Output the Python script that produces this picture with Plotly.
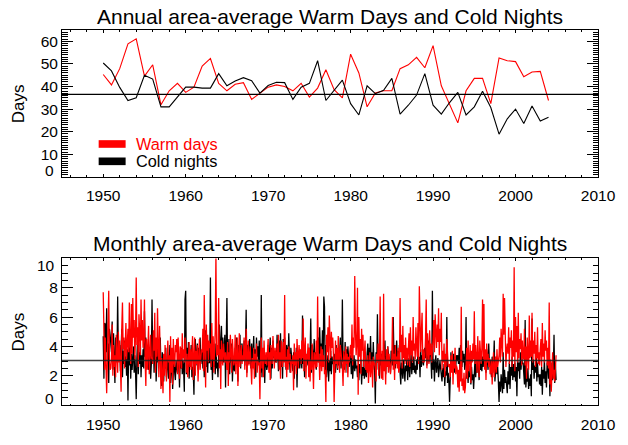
import plotly.graph_objects as go

# ---------------- data ----------------
years = list(range(1950, 2005))

warm_annual = [45.3, 40.7, 47.9, 58.9, 61.1, 44.6, 49.6, 31.9, 38.1, 41.4,
               37.4, 39.7, 49.0, 52.4, 41.4, 38.1, 41.0, 41.7, 34.3, 37.1,
               39.7, 40.7, 40.0, 38.1, 41.4, 35.3, 39.3, 47.4, 38.6, 35.0,
               54.3, 46.0, 31.0, 37.1, 38.1, 38.1, 47.9, 49.6, 52.9, 48.3,
               58.1, 40.3, 32.1, 23.9, 38.1, 43.6, 43.6, 32.4, 52.6, 51.4,
               51.0, 44.3, 46.4, 46.7, 33.8]

cold_annual = [50.4, 46.9, 39.6, 33.8, 35.0, 45.0, 43.3, 31.0, 31.0, 35.3,
               39.7, 39.7, 39.3, 39.3, 45.7, 40.3, 42.4, 43.9, 42.6, 37.1,
               40.4, 41.9, 41.7, 34.3, 39.7, 41.4, 51.4, 33.8, 38.1, 42.8,
               32.4, 27.4, 40.3, 36.8, 38.3, 43.6, 27.8, 31.7, 36.2, 45.7,
               31.7, 27.8, 32.9, 37.4, 27.4, 31.0, 37.9, 30.7, 18.9, 25.7,
               30.0, 23.6, 31.4, 24.7, 26.4]

# monthly counts, Jan 1950 .. Dec 2004 (one row per year)
warm_monthly = [
    7.7, 3.0, 2.4, 4.6, 3.3, 0.8, 2.9, 4.5, 7.8, 3.2, 2.4, 2.5,
    3.1, 5.5, 2.0, 4.1, 2.6, 3.4, 1.9, 4.8, 3.3, 2.2, 5.0, 2.9,
    4.4, 2.7, 0.9, 5.3, 7.0, 3.8, 4.6, 2.5, 3.9, 5.6, 3.1, 4.2,
    5.2, 3.6, 7.0, 4.3, 2.8, 6.9, 3.5, 7.3, 4.6, 5.8, 3.1, 4.8,
    8.7, 4.1, 5.3, 2.6, 6.2, 5.0, 3.4, 7.2, 4.4, 5.8, 3.9, 4.5,
    7.2, 3.0, 1.3, 4.5, 2.4, 3.9, 5.4, 2.1, 3.6, 4.8, 3.2, 3.2,
    2.8, 5.1, 3.7, 6.3, 2.2, 4.6, 3.3, 6.6, 4.0, 1.9, 5.4, 3.7,
    1.1, 3.2, 2.4, 0.8, 3.5, 2.0, 4.1, 2.6, 1.6, 3.3, 4.4, 2.9,
    3.4, 0.2, 4.7, 2.2, 3.9, 1.4, 4.5, 3.0, 2.6, 4.1, 3.6, 4.5,
    2.1, 4.6, 3.3, 1.8, 4.0, 3.7, 2.5, 4.9, 3.2, 3.8, 2.9, 4.6,
    4.1, 2.2, 3.5, 1.9, 3.0, 4.3, 2.6, 3.8, 2.4, 3.2, 4.7, 1.7,
    3.3, 4.6, 2.0, 3.7, 2.8, 4.1, 1.6, 3.9, 4.5, 2.4, 3.0, 3.8,
    3.6, 5.2, 2.3, 7.5, 4.0, 1.2, 5.5, 3.7, 4.8, 2.9, 4.4, 3.9,
    4.2, 2.6, 5.6, 3.1, 4.7, 2.2, 3.9, 5.0, 10.3, 3.3, 4.1, 3.4,
    7.3, 2.5, 3.8, 1.1, 4.4, 3.0, 2.7, 4.2, 3.5, 2.9, 3.6, 2.4,
    2.4, 4.3, 1.3, 3.6, 2.9, 4.8, 3.3, 2.2, 4.5, 3.1, 2.7, 3.0,
    4.8, 2.1, 3.4, 4.6, 1.3, 3.8, 4.9, 2.6, 3.2, 4.1, 2.8, 3.4,
    3.0, 4.6, 2.4, 3.7, 5.2, 1.9, 3.3, 4.4, 2.7, 3.9, 4.0, 2.6,
    1.4, 3.2, 2.5, 3.9, 1.8, 3.5, 2.9, 4.2, 2.2, 3.1, 2.7, 2.9,
    0.4, 3.4, 4.6, 2.5, 3.9, 1.9, 4.4, 3.2, 2.8, 3.6, 2.7, 3.7,
    4.5, 2.2, 3.6, 1.7, 4.1, 3.4, 2.8, 4.7, 3.0, 2.5, 3.9, 3.3,
    2.9, 4.2, 3.1, 4.8, 2.4, 3.6, 1.8, 4.4, 3.7, 2.6, 4.3, 2.9,
    7.5, 2.6, 3.3, 1.9, 3.8, 2.4, 4.0, 2.9, 3.5, 2.2, 3.1, 2.8,
    3.4, 1.0, 4.2, 2.7, 3.6, 2.1, 4.5, 3.0, 2.5, 4.1, 3.2, 3.8,
    2.8, 4.4, 3.2, 5.9, 2.3, 3.7, 4.6, 1.8, 3.5, 3.1, 4.2, 1.9,
    3.9, 1.6, 3.0, 2.4, 4.2, 2.7, 1.1, 3.6, 3.3, 2.5, 4.4, 2.6,
    7.4, 2.9, 3.5, 1.7, 3.2, 4.0, 2.3, 3.8, 2.6, 3.4, 2.1, 2.4,
    0.2, 4.8, 3.6, 5.3, 2.9, 6.1, 4.4, 3.2, 5.0, 3.9, 4.6, 3.4,
    0.2, 3.6, 4.4, 2.8, 3.9, 2.5, 4.7, 3.3, 2.2, 4.1, 3.6, 3.3,
    2.6, 1.3, 3.7, 3.1, 2.2, 4.0, 2.8, 3.5, 1.9, 3.3, 2.9, 3.7,
    4.1, 3.2, 5.5, 2.7, 4.6, 3.9, 8.8, 5.1, 3.4, 4.3, 8.0, 0.7,
    6.0, 3.3, 4.5, 2.1, 5.2, 3.7, 4.8, 2.6, 3.9, 4.4, 2.4, 3.1,
    2.2, 3.4, 1.5, 2.8, 3.6, 1.9, 2.4, 3.1, 1.2, 3.3, 2.7, 2.9,
    2.4, 1.6, 3.5, 2.9, 4.2, 2.0, 3.3, 7.4, 2.6, 1.8, 3.7, 1.7,
    7.6, 2.3, 3.1, 1.4, 3.8, 2.6, 4.0, 2.2, 3.5, 2.7, 2.1, 2.8,
    3.2, 6.0, 2.4, 3.5, 1.7, 4.1, 2.8, 3.3, 2.5, 3.9, 2.2, 2.5,
    7.3, 3.6, 4.8, 2.5, 5.4, 3.2, 4.1, 2.8, 4.6, 3.0, 3.9, 2.7,
    3.8, 4.9, 2.6, 5.3, 3.4, 4.4, 2.9, 6.0, 3.7, 4.2, 3.1, 5.3,
    4.1, 3.3, 5.6, 2.8, 8.1, 4.5, 3.6, 5.0, 6.3, 2.9, 3.8, 2.9,
    3.2, 4.6, 7.2, 2.5, 4.9, 3.7, 2.8, 5.1, 3.4, 4.2, 2.9, 3.8,
    4.4, 5.8, 3.6, 6.2, 4.9, 3.9, 5.5, 4.3, 6.6, 3.4, 5.2, 4.3,
    6.3, 2.4, 3.7, 2.9, 4.2, 1.9, 3.5, 2.6, 4.5, 3.0, 2.7, 2.6,
    2.8, 1.9, 3.4, 2.2, 3.7, 1.4, 3.0, 2.5, 3.9, 2.1, 2.7, 2.5,
    1.2, 2.4, 0.9, 2.8, 1.6, 6.7, 1.3, 1.8, 1.0, 2.2, 0.8, 1.2,
    2.6, 3.9, 1.8, 4.4, 2.3, 3.6, 4.1, 1.5, 3.7, 2.9, 4.2, 3.1,
    6.4, 2.8, 4.1, 3.3, 2.2, 4.7, 3.6, 1.9, 4.4, 3.5, 2.8, 3.9,
    7.2, 3.1, 6.9, 2.4, 3.8, 1.7, 4.2, 2.9, 3.5, 2.6, 3.2, 2.1,
    2.3, 3.1, 1.4, 2.7, 3.6, 1.9, 2.5, 3.3, 2.2, 3.8, 2.6, 3.0,
    3.4, 4.6, 2.9, 5.2, 4.0, 3.3, 7.6, 4.8, 7.3, 3.1, 2.6, 3.8,
    4.2, 3.5, 5.3, 2.8, 4.6, 3.9, 5.1, 2.6, 4.4, 3.3, 9.4, 2.3,
    6.0, 3.6, 5.4, 2.9, 6.3, 3.2, 4.5, 3.8, 4.9, 2.7, 4.4, 3.3,
    3.1, 5.2, 2.7, 4.0, 1.8, 4.6, 3.5, 2.4, 6.1, 3.2, 4.4, 3.3,
    6.3, 2.9, 4.4, 3.5, 5.0, 2.6, 4.1, 3.2, 5.3, 2.8, 3.6, 2.7,
    3.8, 4.5, 2.6, 5.6, 3.3, 4.2, 2.9, 5.1, 3.7, 4.4, 2.7, 3.9,
    2.5, 7.0, 1.4, 3.1, 0.9, 2.8, 3.6, 1.8, 2.4, 1.6, 3.3, 3.4,
]

cold_monthly = [
    4.7, 1.8, 5.6, 5.5, 3.6, 6.6, 3.0, 4.2, 1.5, 5.2, 4.8, 3.9,
    3.6, 5.7, 2.4, 4.9, 3.1, 1.5, 4.6, 3.8, 2.9, 7.4, 3.3, 3.7,
    4.1, 2.3, 3.5, 5.2, 1.9, 3.7, 2.8, 4.4, 2.6, 3.3, 2.0, 3.8,
    0.3, 3.9, 2.7, 4.2, 1.8, 3.5, 2.4, 3.1, 4.0, 2.2, 3.4, 2.3,
    0.4, 3.2, 4.5, 2.1, 3.6, 2.8, 4.2, 1.9, 3.4, 2.6, 3.8, 2.5,
    6.4, 3.3, 4.6, 2.7, 3.9, 2.6, 2.4, 3.5, 3.8, 1.8, 2.8, 7.2,
    3.1, 4.9, 2.2, 3.8, 4.4, 1.6, 3.7, 4.5, 2.9, 4.1, 3.5, 4.6,
    2.4, 1.3, 3.6, 2.8, 1.6, 3.2, 2.5, 3.9, 1.9, 2.7, 3.3, 1.8,
    2.9, 4.1, 1.5, 2.6, 3.4, 1.1, 2.8, 3.5, 2.2, 1.7, 3.0, 2.2,
    2.2, 3.6, 2.9, 1.2, 3.4, 2.5, 3.9, 2.1, 3.0, 2.4, 0.9, 7.2,
    7.8, 2.1, 3.9, 2.6, 4.3, 1.8, 3.4, 2.9, 4.1, 1.9, 2.6, 2.3,
    0.7, 3.8, 4.5, 2.7, 3.5, 4.2, 2.4, 3.9, 3.1, 4.6, 2.8, 3.5,
    3.7, 2.5, 4.3, 1.9, 3.4, 5.1, 2.6, 3.8, 2.2, 4.0, 2.9, 2.9,
    8.7, 2.4, 3.1, 1.7, 3.9, 2.6, 3.3, 2.1, 4.2, 2.5, 2.9, 1.9,
    3.5, 5.5, 4.2, 2.8, 5.4, 3.7, 4.6, 2.9, 3.9, 4.8, 1.2, 3.2,
    7.3, 2.6, 3.8, 4.5, 2.1, 3.4, 2.9, 4.2, 1.6, 3.1, 2.5, 2.3,
    3.9, 2.8, 4.6, 3.3, 1.6, 4.1, 3.6, 4.8, 2.5, 3.9, 4.2, 3.1,
    3.4, 4.4, 2.7, 3.9, 6.5, 2.2, 4.1, 3.6, 2.8, 4.5, 3.3, 2.5,
    4.2, 2.9, 3.6, 4.7, 2.4, 3.8, 1.9, 4.6, 3.3, 4.0, 2.8, 4.4,
    3.1, 2.2, 7.5, 1.9, 3.3, 2.6, 3.7, 1.5, 3.4, 2.8, 2.4, 2.7,
    4.1, 2.7, 3.4, 4.6, 1.8, 3.9, 2.5, 4.4, 3.2, 3.6, 2.9, 3.3,
    2.9, 4.8, 3.5, 2.3, 4.4, 3.1, 4.9, 2.6, 3.7, 1.8, 4.5, 3.4,
    4.6, 3.2, 2.4, 4.1, 3.7, 2.8, 4.9, 3.3, 2.2, 3.9, 3.5, 3.1,
    2.3, 3.6, 1.8, 3.1, 2.7, 3.9, 1.2, 3.4, 2.9, 3.3, 2.5, 3.6,
    3.2, 2.5, 6.1, 2.8, 3.6, 1.9, 4.0, 2.6, 3.4, 3.0, 2.7, 3.9,
    2.6, 3.3, 5.9, 2.2, 4.1, 3.4, 2.8, 4.5, 3.0, 3.6, 2.4, 3.6,
    3.8, 4.6, 2.9, 5.3, 3.5, 4.2, 3.1, 5.1, 2.6, 7.4, 6.7, 2.2,
    4.1, 1.9, 2.6, 3.4, 1.6, 3.0, 2.3, 3.7, 2.1, 3.3, 2.8, 3.0,
    2.8, 3.5, 2.2, 4.1, 3.0, 2.4, 3.8, 2.7, 3.4, 4.6, 2.5, 3.1,
    7.2, 2.9, 3.6, 2.4, 4.3, 3.1, 3.8, 2.2, 4.0, 3.3, 2.6, 3.4,
    3.3, 2.1, 3.7, 1.8, 2.9, 3.4, 2.3, 3.1, 2.5, 2.7, 1.9, 2.7,
    1.7, 2.8, 2.2, 3.1, 1.4, 2.6, 2.0, 3.3, 1.8, 2.5, 2.1, 1.9,
    3.5, 4.2, 2.6, 3.9, 3.1, 4.7, 2.8, 3.6, 2.4, 4.3, 2.9, 2.3,
    0.1, 3.6, 2.4, 6.2, 2.9, 3.3, 1.8, 4.1, 2.7, 3.5, 2.6, 3.6,
    2.9, 3.7, 4.4, 2.1, 3.3, 2.6, 4.0, 3.5, 2.8, 3.1, 2.2, 3.7,
    3.6, 2.7, 6.0, 3.4, 4.1, 2.5, 3.8, 4.4, 2.9, 3.7, 2.4, 4.1,
    2.2, 1.4, 2.9, 2.5, 1.8, 3.1, 2.4, 1.6, 2.7, 2.3, 3.2, 1.7,
    2.6, 3.2, 1.9, 2.8, 3.5, 2.1, 2.9, 2.4, 3.3, 2.2, 2.7, 2.1,
    3.1, 2.4, 3.6, 2.8, 3.3, 1.9, 3.8, 2.6, 3.4, 3.0, 2.7, 3.6,
    3.9, 3.2, 4.6, 2.7, 3.8, 4.4, 2.9, 3.5, 4.1, 3.0, 1.8, 7.8,
    2.4, 3.1, 1.6, 2.9, 3.4, 2.2, 2.7, 3.2, 1.9, 2.8, 3.0, 2.5,
    2.1, 1.6, 2.5, 1.9, 2.8, 1.3, 2.3, 2.0, 6.0, 1.5, 2.2, 1.6,
    0.2, 2.9, 3.6, 2.4, 3.1, 2.7, 3.5, 2.2, 3.3, 2.6, 3.4, 3.0,
    3.4, 2.8, 3.9, 2.3, 4.1, 3.0, 2.6, 3.7, 2.9, 3.5, 2.4, 2.8,
    6.0, 1.8, 2.4, 1.5, 2.7, 1.9, 2.2, 1.4, 2.6, 1.7, 2.1, 1.1,
    2.5, 3.1, 1.9, 2.8, 2.2, 3.4, 2.6, 1.7, 3.2, 2.4, 2.9, 2.3,
    3.3, 2.6, 4.0, 2.9, 3.6, 2.2, 3.8, 3.1, 2.4, 4.2, 2.7, 3.1,
    2.7, 1.9, 3.3, 2.2, 2.8, 4.4, 1.6, 2.5, 3.0, 2.1, 2.6, 1.6,
    0.2, 1.6, 0.9, 2.1, 1.3, 0.8, 3.6, 1.1, 2.4, 1.5, 1.9, 1.5,
    0.8, 2.3, 1.4, 2.9, 1.1, 2.6, 2.0, 3.3, 1.7, 2.8, 1.9, 2.9,
    1.6, 2.6, 0.6, 3.2, 2.3, 2.9, 1.8, 3.6, 2.4, 3.3, 2.8, 2.9,
    2.2, 1.4, 5.8, 1.2, 2.0, 1.6, 2.5, 1.1, 1.8, 1.3, 2.1, 0.6,
    5.9, 2.4, 3.1, 1.8, 2.7, 2.2, 3.4, 1.6, 2.9, 1.9, 2.1, 1.4,
    2.1, 1.3, 2.6, 0.7, 2.4, 1.8, 3.1, 1.5, 2.3, 1.2, 2.9, 2.8,
    1.8, 2.6, 0.6, 2.2, 1.4, 2.9, 1.7, 2.4, 4.8, 1.5, 2.8, 1.7,
]

# decimal-year time stamp of each month
month_time = [1950 + i / 12 for i in range(len(warm_monthly))]

# expected count for a 10th/90th percentile index: 10 % of the days
annual_ref = 36.5
monthly_ref = annual_ref / 12

x_ticks = [1950, 1960, 1970, 1980, 1990, 2000, 2010]
annual_ticks = [0, 10, 20, 30, 40, 50, 60]
monthly_ticks = [0, 2, 4, 6, 8, 10]

# ---------------- figure ----------------
FONT = "Liberation Sans, Arial, Helvetica, sans-serif"
RED = "#ff0000"
BLACK = "#000000"

fig = go.Figure()

fig.add_trace(go.Scatter(x=years, y=warm_annual, mode="lines", name="Warm days",
                         line=dict(color=RED, width=1.1), xaxis="x", yaxis="y"))
fig.add_trace(go.Scatter(x=years, y=cold_annual, mode="lines", name="Cold nights",
                         line=dict(color=BLACK, width=1.1), xaxis="x", yaxis="y"))

fig.add_trace(go.Scatter(x=month_time, y=cold_monthly, mode="lines",
                         line=dict(color=BLACK, width=1.3), xaxis="x2", yaxis="y2"))
fig.add_trace(go.Scatter(x=month_time, y=warm_monthly, mode="lines",
                         line=dict(color=RED, width=1.3), xaxis="x2", yaxis="y2"))

common = dict(showline=True, linecolor="black", linewidth=1, mirror="allticks",
              ticks="inside", tickcolor="black", tickwidth=1, showgrid=False,
              zeroline=False, tickfont=dict(family=FONT, size=15.5, color="black"))

def x_axis(anchor):
    return dict(common, range=[1945, 2010], anchor=anchor, domain=[0, 1],
                tickmode="array", tickvals=x_ticks, ticklen=3,
                ticklabelstandoff=5,
                minor=dict(dtick=2, tick0=1950, ticklen=1.5, ticks="inside",
                           tickcolor="black", showgrid=False))

def y_axis(anchor, rng, ticks, minor_step, domain):
    text = [str(t) for t in ticks]
    text[0] = ""  # edge label drawn separately, kept inside the frame
    if ticks[-1] == rng[1]:
        text[-1] = ""
    return dict(common, range=rng, anchor=anchor, domain=domain,
                tickmode="array", tickvals=ticks, ticktext=text, ticklen=11,
                minor=dict(dtick=minor_step, tick0=0, ticklen=5.5, ticks="inside",
                           tickcolor="black", showgrid=False))

fig.update_layout(
    width=628, height=445,
    margin=dict(l=62, r=21, t=30, b=28),
    paper_bgcolor="white", plot_bgcolor="white",
    showlegend=False,
    font=dict(family=FONT, color="black"),
    xaxis=x_axis("y"),
    yaxis=y_axis("x", [0, 65], annual_ticks, 1, [0.6083, 1]),
    xaxis2=x_axis("y2"),
    yaxis2=y_axis("x2", [0, 10], monthly_ticks, 0.5, [0, 0.3907]),
)

# reference lines
fig.add_shape(type="line", xref="x domain", yref="y", x0=0, x1=1,
              y0=annual_ref, y1=annual_ref, line=dict(color="black", width=1.2))
fig.add_shape(type="line", xref="x2 domain", yref="y2", x0=0, x1=1,
              y0=monthly_ref, y1=monthly_ref,
              line=dict(color="rgba(30,30,30,0.85)", width=1.6))

ann = []
# titles
ann.append(dict(text="Annual area-average Warm Days and Cold Nights",
                xref="x domain", yref="paper", x=0.5, y=1.036,
                xanchor="center", yanchor="middle", showarrow=False,
                font=dict(family=FONT, size=21, color="black")))
ann.append(dict(text="Monthly area-average Warm Days and Cold Nights",
                xref="x2 domain", yref="paper", x=0.5, y=0.4315,
                xanchor="center", yanchor="middle", showarrow=False,
                font=dict(family=FONT, size=21, color="black")))
# y titles
for yref in ("y domain", "y2 domain"):
    ann.append(dict(text="Days", xref="paper", yref=yref, x=-0.0807, y=0.5,
                    xanchor="center", yanchor="middle", textangle=-90,
                    showarrow=False, font=dict(family=FONT, size=17, color="black")))
# edge tick labels, kept inside the frame
ann.append(dict(text="0", xref="paper", yref="y", x=-0.011, y=0,
                xanchor="right", yanchor="bottom", yshift=-4, showarrow=False,
                font=dict(family=FONT, size=15.5, color="black")))
ann.append(dict(text="0", xref="paper", yref="y2", x=-0.011, y=0,
                xanchor="right", yanchor="bottom", yshift=-4, showarrow=False,
                font=dict(family=FONT, size=15.5, color="black")))
ann.append(dict(text="10", xref="paper", yref="y2", x=-0.009, y=10,
                xanchor="right", yanchor="top", yshift=3, showarrow=False,
                font=dict(family=FONT, size=15.5, color="black")))

# legend
legend_items = [("Warm days", RED, 0.224), ("Cold nights", BLACK, 0.106)]
for label, color, yc in legend_items:
    fig.add_shape(type="rect", xref="x domain", yref="y domain",
                  x0=0.0684, x1=0.1187, y0=yc - 0.026, y1=yc + 0.026,
                  fillcolor=color, line=dict(width=0))
    ann.append(dict(text=label, xref="x domain", yref="y domain", x=0.137, y=yc,
                    xanchor="left", yanchor="middle", showarrow=False,
                    borderpad=0,
                    font=dict(family=FONT, size=16.3, color=color)))

fig.update_layout(annotations=ann)

fig.write_html("out.html")
